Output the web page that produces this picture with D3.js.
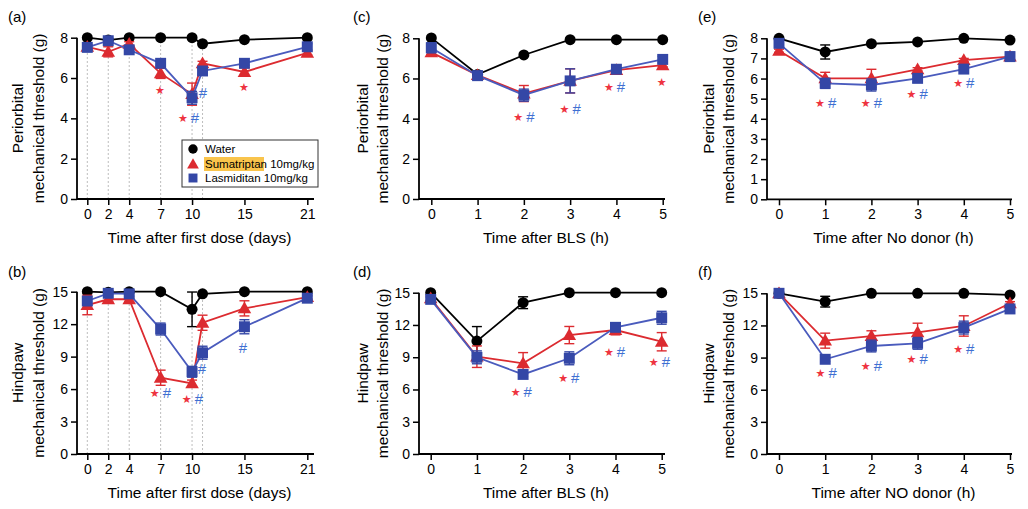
<!DOCTYPE html>
<html><head><meta charset="utf-8">
<script src="https://cdn.jsdelivr.net/npm/d3@7"></script>
<style>
body{margin:0;background:#fff;}
svg{display:block;font-family:"Liberation Sans",Arial,Helvetica,sans-serif;}
</style></head>
<body><svg id="chart" width="1028" height="509"></svg>
<script>
// ---------- DATA ----------
const seriesNames = ["Water", "Sumatriptan", "Lasmiditan"];
const legendLabels = ["Water", "Sumatriptan", "Lasmiditan"];
const legendDose = ["", " 10mg/kg", " 10mg/kg"];

const daysX = [0, 2, 4, 7, 10, 11, 15, 21];
const daysTicks = [0, 2, 4, 7, 10, 15, 21];
const daysGuides = [0, 2, 4, 7, 10, 11];
const hoursX = [0, 1, 2, 3, 4, 5];
const hoursTicks = [0, 1, 2, 3, 4, 5];

// (a) periorbital, days
const aWater = [8, 7.88, 8, 8, 8, 7.7, 7.9, 8];
const aWaterErr = [0, 0, 0, 0, 0, 0, 0, 0];
const aSuma = [7.55, 7.3, 7.7, 6.23, 5.2, 6.73, 6.3, 7.25];
const aSumaErr = [0.1, 0.25, 0.1, 0.25, 0.55, 0.1, 0.2, 0.1];
const aLasm = [7.52, 7.85, 7.4, 6.73, 5.02, 6.35, 6.73, 7.55];
const aLasmErr = [0.12, 0.12, 0.15, 0.12, 0.32, 0.15, 0.1, 0.15];
const aMarks = [[6.94, 5.4, "*"], [9.66, 4.0, "*#"], [11.03, 5.27, "#"], [14.95, 5.57, "*"]];

// (b) hindpaw, days
const bWater = [15, 14.94, 15, 15, 13.37, 14.8, 15, 15];
const bWaterErr = [0, 0, 0, 0, 1.6, 0, 0, 0];
const bSuma = [13.77, 14.3, 14.3, 7.05, 6.53, 12.13, 13.46, 14.5];
const bSumaErr = [0.9, 0.2, 0.2, 0.7, 0.3, 0.7, 0.7, 0.15];
const bLasm = [14.14, 14.85, 14.8, 11.55, 7.6, 9.36, 11.76, 14.4];
const bLasmErr = [0.4, 0.2, 0.2, 0.55, 0.5, 0.6, 0.65, 0.2];
const bMarks = [[6.98, 5.6, "*#"], [10.04, 5.08, "*#"], [10.94, 7.9, "#"], [14.86, 9.8, "#"]];

// (c) periorbital, BLS
const cWater = [8.02, 6.2, 7.17, 7.93, 7.93, 7.93];
const cWaterErr = [0, 0, 0, 0, 0, 0];
const cSuma = [7.3, 6.17, 5.25, 5.88, 6.42, 6.66];
const cSumaErr = [0.12, 0.15, 0.4, 0.6, 0.08, 0.08];
const cLasm = [7.53, 6.14, 5.17, 5.88, 6.46, 6.95];
const cLasmErr = [0.25, 0.22, 0.3, 0.6, 0.08, 0.15];
const cMarks = [[2.0, 4.1, "*#"], [3.0, 4.5, "*#"], [3.96, 5.56, "*#"], [4.98, 5.84, "*"]];

// (d) hindpaw, BLS
const dWater = [15, 10.5, 14.07, 15, 15, 15];
const dWaterErr = [0, 1.35, 0.55, 0, 0, 0];
const dSuma = [14.47, 9.05, 8.43, 11.06, 11.53, 10.44];
const dSumaErr = [0.2, 1.0, 1.0, 0.8, 0.45, 0.85];
const dLasm = [14.38, 8.99, 7.4, 8.9, 11.78, 12.67];
const dLasmErr = [0.2, 0.6, 0.2, 0.6, 0.35, 0.6];
const dMarks = [[1.96, 5.8, "*#"], [2.99, 7.03, "*#"], [3.98, 9.51, "*#"], [4.95, 8.52, "*#"]];

// (e) periorbital, NO donor
const eWater = [8, 7.32, 7.73, 7.82, 8, 7.91];
const eWaterErr = [0, 0.35, 0, 0, 0, 0];
const eSuma = [7.38, 6.01, 6.01, 6.46, 6.92, 7.09];
const eSumaErr = [0.08, 0.3, 0.45, 0.08, 0.08, 0.2];
const eLasm = [7.75, 5.76, 5.68, 6.01, 6.47, 7.09];
const eLasmErr = [0.1, 0.25, 0.3, 0.2, 0.1, 0.22];
const eMarks = [[1.01, 4.8, "*#"], [2.0, 4.77, "*#"], [2.99, 5.22, "*#"], [4.0, 5.76, "*#"]];

// (f) hindpaw, NO donor
const fWater = [15, 14.22, 15, 15, 15, 14.85];
const fWaterErr = [0, 0.5, 0, 0, 0, 0];
const fSuma = [15, 10.58, 11.0, 11.36, 11.95, 14.07];
const fSumaErr = [0, 0.7, 0.5, 0.85, 0.95, 0.15];
const fLasm = [15, 8.84, 10.08, 10.33, 11.8, 13.54];
const fLasmErr = [0, 0.2, 0.55, 0.55, 0.6, 0.2];
const fMarks = [[1.02, 7.53, "*#"], [2.0, 8.25, "*#"], [2.99, 8.84, "*#"], [4.0, 9.8, "*#"]];

const periTicks = [0, 2, 4, 6, 8];
const periTicksE = [0, 1, 2, 3, 4, 5, 6, 7, 8];
const hindTicks = [0, 3, 6, 9, 12, 15];

// ---------- STYLE / LAYOUT ----------
const colors = {water: "#000000", suma: "#dc2b30", lasm: "#3447a6", lasmLine: "#4a5bbd", star: "#ee3340", hash: "#3f6fd2"};

const panels = [
  {id: "(a)", x: daysX, xTicks: daysTicks, guides: daysGuides, yTicks: periTicks, yMax: 8,
   water: aWater, waterErr: aWaterErr, suma: aSuma, sumaErr: aSumaErr, lasm: aLasm, lasmErr: aLasmErr, marks: aMarks,
   xDom: [0, 21], xRange: [87.3, 307.3], axisX: 77, axisEnd: 314, yRange: [199, 37.7],
   label: [8, 22], xTitle: "Time after first dose (days)", yTitle: ["Periorbital", "mechanical threshold (g)"], yT: [17, 38], legend: true},
  {id: "(b)", x: daysX, xTicks: daysTicks, guides: daysGuides, yTicks: hindTicks, yMax: 15,
   water: bWater, waterErr: bWaterErr, suma: bSuma, sumaErr: bSumaErr, lasm: bLasm, lasmErr: bLasmErr, marks: bMarks,
   xDom: [0, 21], xRange: [87.3, 307.3], axisX: 77, axisEnd: 314, yRange: [454, 291.7],
   label: [8, 277], xTitle: "Time after first dose (days)", yTitle: ["Hindpaw", "mechanical threshold (g)"], yT: [17, 38]},
  {id: "(c)", x: hoursX, xTicks: hoursTicks, guides: [], yTicks: periTicks, yMax: 8,
   water: cWater, waterErr: cWaterErr, suma: cSuma, sumaErr: cSumaErr, lasm: cLasm, lasmErr: cLasmErr, marks: cMarks,
   xDom: [0, 5], xRange: [431.3, 662.7], axisX: 419, axisEnd: 665, yRange: [199, 38.3],
   label: [353, 22], xTitle: "Time after BLS (h)", yTitle: ["Periorbital", "mechanical threshold (g)"], yT: [362, 382]},
  {id: "(d)", x: hoursX, xTicks: hoursTicks, guides: [], yTicks: hindTicks, yMax: 15,
   water: dWater, waterErr: dWaterErr, suma: dSuma, sumaErr: dSumaErr, lasm: dLasm, lasmErr: dLasmErr, marks: dMarks,
   xDom: [0, 5], xRange: [430.7, 661.7], axisX: 419, axisEnd: 665, yRange: [454, 292.7],
   label: [353, 277], xTitle: "Time after BLS (h)", yTitle: ["Hindpaw", "mechanical threshold (g)"], yT: [362, 382]},
  {id: "(e)", x: hoursX, xTicks: hoursTicks, guides: [], yTicks: periTicksE, yMax: 8,
   water: eWater, waterErr: eWaterErr, suma: eSuma, sumaErr: eSumaErr, lasm: eLasm, lasmErr: eLasmErr, marks: eMarks,
   xDom: [0, 5], xRange: [779, 1010], axisX: 767, axisEnd: 1012, yRange: [199.3, 38.3],
   label: [698, 22], xTitle: "Time after No donor (h)", yTitle: ["Periorbital", "mechanical threshold (g)"], yT: [708, 728]},
  {id: "(f)", x: hoursX, xTicks: hoursTicks, guides: [], yTicks: hindTicks, yMax: 15,
   water: fWater, waterErr: fWaterErr, suma: fSuma, sumaErr: fSumaErr, lasm: fLasm, lasmErr: fLasmErr, marks: fMarks,
   xDom: [0, 5], xRange: [779, 1010], axisX: 767, axisEnd: 1012, yRange: [454, 293.3],
   label: [698, 277], xTitle: "Time after NO donor (h)", yTitle: ["Hindpaw", "mechanical threshold (g)"], yT: [708, 728]}
];

const svg = d3.select("#chart");
const fmt = d3.format("d");

function drawSeries(g, xs, ys, errs, xS, yS, kind) {
  const col = kind === "water" ? colors.water : kind === "suma" ? colors.suma : colors.lasm;
  const lineCol = kind === "lasm" ? colors.lasmLine : col;
  const pts = xs.map((x, i) => ({x, y: ys[i], e: errs[i]}));
  const line = d3.line().x(d => xS(d.x)).y(d => yS(d.y));
  g.append("path").datum(pts).attr("d", line).attr("fill", "none")
    .attr("stroke", lineCol).attr("stroke-width", 1.8);
  // error bars
  const eb = g.append("g").attr("stroke", col).attr("stroke-width", 1.4);
  pts.filter(d => d.e > 0).forEach(d => {
    const cx = xS(d.x);
    eb.append("line").attr("x1", cx).attr("x2", cx).attr("y1", yS(d.y - d.e)).attr("y2", yS(d.y + d.e));
    [d.y - d.e, d.y + d.e].forEach(v => {
      eb.append("line").attr("x1", cx - 5).attr("x2", cx + 5).attr("y1", yS(v)).attr("y2", yS(v));
    });
  });
  // markers
  const sym = kind === "water" ? d3.symbolCircle : kind === "suma" ? d3.symbolTriangle : d3.symbolSquare;
  const size = kind === "water" ? 95 : kind === "suma" ? 80 : 120;
  g.selectAll(null).data(pts).enter().append("path")
    .attr("d", d3.symbol().type(sym).size(size))
    .attr("transform", d => `translate(${xS(d.x)},${yS(d.y) + (kind === "suma" ? 1 : 0)})`)
    .attr("fill", col);
}

panels.forEach(p => {
  const xS = d3.scaleLinear().domain(p.xDom).range(p.xRange);
  const yS = d3.scaleLinear().domain([0, p.yMax]).range(p.yRange);
  const g = svg.append("g");
  const y0 = p.yRange[0];

  // guide lines
  p.guides.forEach(gx => {
    const i = p.x.indexOf(gx);
    g.append("line").attr("x1", xS(gx)).attr("x2", xS(gx))
      .attr("y1", y0).attr("y2", yS(p.water[i] + p.waterErr[i]))
      .attr("stroke", "#bdbdbd").attr("stroke-width", 1).attr("stroke-dasharray", "2,2");
  });

  // axes
  const xAxis = d3.axisBottom(xS).tickValues(p.xTicks).tickFormat(fmt).tickSize(6).tickSizeOuter(0).tickPadding(4);
  const xg = g.append("g").attr("transform", `translate(0,${y0})`).call(xAxis);
  xg.select(".domain").remove();
  xg.selectAll(".tick line").attr("stroke", "#000").attr("stroke-width", 1.5);
  xg.selectAll(".tick text").attr("font-size", 14).attr("fill", "#000").attr("font-family", "Liberation Sans, Arial, sans-serif");
  g.append("line").attr("x1", p.axisX).attr("x2", p.axisEnd).attr("y1", y0).attr("y2", y0)
    .attr("stroke", "#000").attr("stroke-width", 1.8);

  const yAxis = d3.axisLeft(yS).tickValues(p.yTicks).tickFormat(fmt).tickSize(6).tickSizeOuter(0).tickPadding(3);
  const yg = g.append("g").attr("transform", `translate(${p.axisX},0)`).call(yAxis);
  yg.select(".domain").remove();
  yg.selectAll(".tick line").attr("stroke", "#000").attr("stroke-width", 1.5);
  yg.selectAll(".tick text").attr("font-size", 14).attr("fill", "#000").attr("font-family", "Liberation Sans, Arial, sans-serif");
  g.append("line").attr("x1", p.axisX).attr("x2", p.axisX).attr("y1", y0).attr("y2", p.yRange[1])
    .attr("stroke", "#000").attr("stroke-width", 1.8);

  // titles
  g.append("text").attr("x", (p.axisX + p.axisEnd) / 2 + 4).attr("y", y0 + 44)
    .attr("text-anchor", "middle").attr("font-size", 15.5).text(p.xTitle);
  const yc = (p.yRange[0] + p.yRange[1]) / 2;
  p.yTitle.forEach((t, k) => {
    g.append("text").attr("transform", `translate(${p.yT[k]},${yc}) rotate(-90)`)
      .attr("text-anchor", "middle").attr("dominant-baseline", "central")
      .attr("font-size", 15.5).text(t);
  });
  g.append("text").attr("x", p.label[0]).attr("y", p.label[1]).attr("font-size", 15).text(p.id);

  // series
  drawSeries(g, p.x, p.water, p.waterErr, xS, yS, "water");
  drawSeries(g, p.x, p.suma, p.sumaErr, xS, yS, "suma");
  drawSeries(g, p.x, p.lasm, p.lasmErr, xS, yS, "lasm");

  // significance marks
  p.marks.forEach(([mx, my, t]) => {
    const tx = g.append("text").attr("x", xS(mx)).attr("y", yS(my) + 5)
      .attr("text-anchor", "middle").attr("font-size", 15);
    for (let k = 0; k < t.length; k++) {
      const ch = t[k];
      if (ch === "*") {
        tx.append("tspan").attr("fill", colors.star).attr("font-size", 11)
          .attr("font-family", "DejaVu Sans, sans-serif").attr("dy", -1).text("★");
      } else {
        const ts = tx.append("tspan").attr("fill", colors.hash).attr("font-size", 15).text("#");
        if (k > 0) ts.attr("dx", 3).attr("dy", 1);
      }
    }
  });

  // legend
  if (p.legend) {
    const lg = g.append("g").attr("transform", "translate(182,140)");
    lg.append("rect").attr("width", 136).attr("height", 47).attr("fill", "#fff")
      .attr("stroke", "#333").attr("stroke-width", 1);
    const kinds = ["water", "suma", "lasm"];
    const syms = [d3.symbolCircle, d3.symbolTriangle, d3.symbolSquare];
    const cols = [colors.water, colors.suma, colors.lasm];
    const sizes = [70, 60, 80];
    const rowsY = [9, 24, 38];
    kinds.forEach((k, i) => {
      lg.append("path").attr("d", d3.symbol().type(syms[i]).size(sizes[i]))
        .attr("transform", `translate(11,${rowsY[i] + (i === 1 ? 1 : 0)})`).attr("fill", cols[i]);
      if (i === 1) {
        lg.append("rect").attr("x", 22).attr("y", rowsY[i] - 7).attr("width", 60).attr("height", 14).attr("fill", "#f9c44c");
      }
      const tt = lg.append("text").attr("x", 23).attr("y", rowsY[i] + 4).attr("font-size", 11.5);
      tt.append("tspan").text(legendLabels[i]);
      if (legendDose[i]) tt.append("tspan").text(legendDose[i]);
    });
  }
});
</script></body></html>
